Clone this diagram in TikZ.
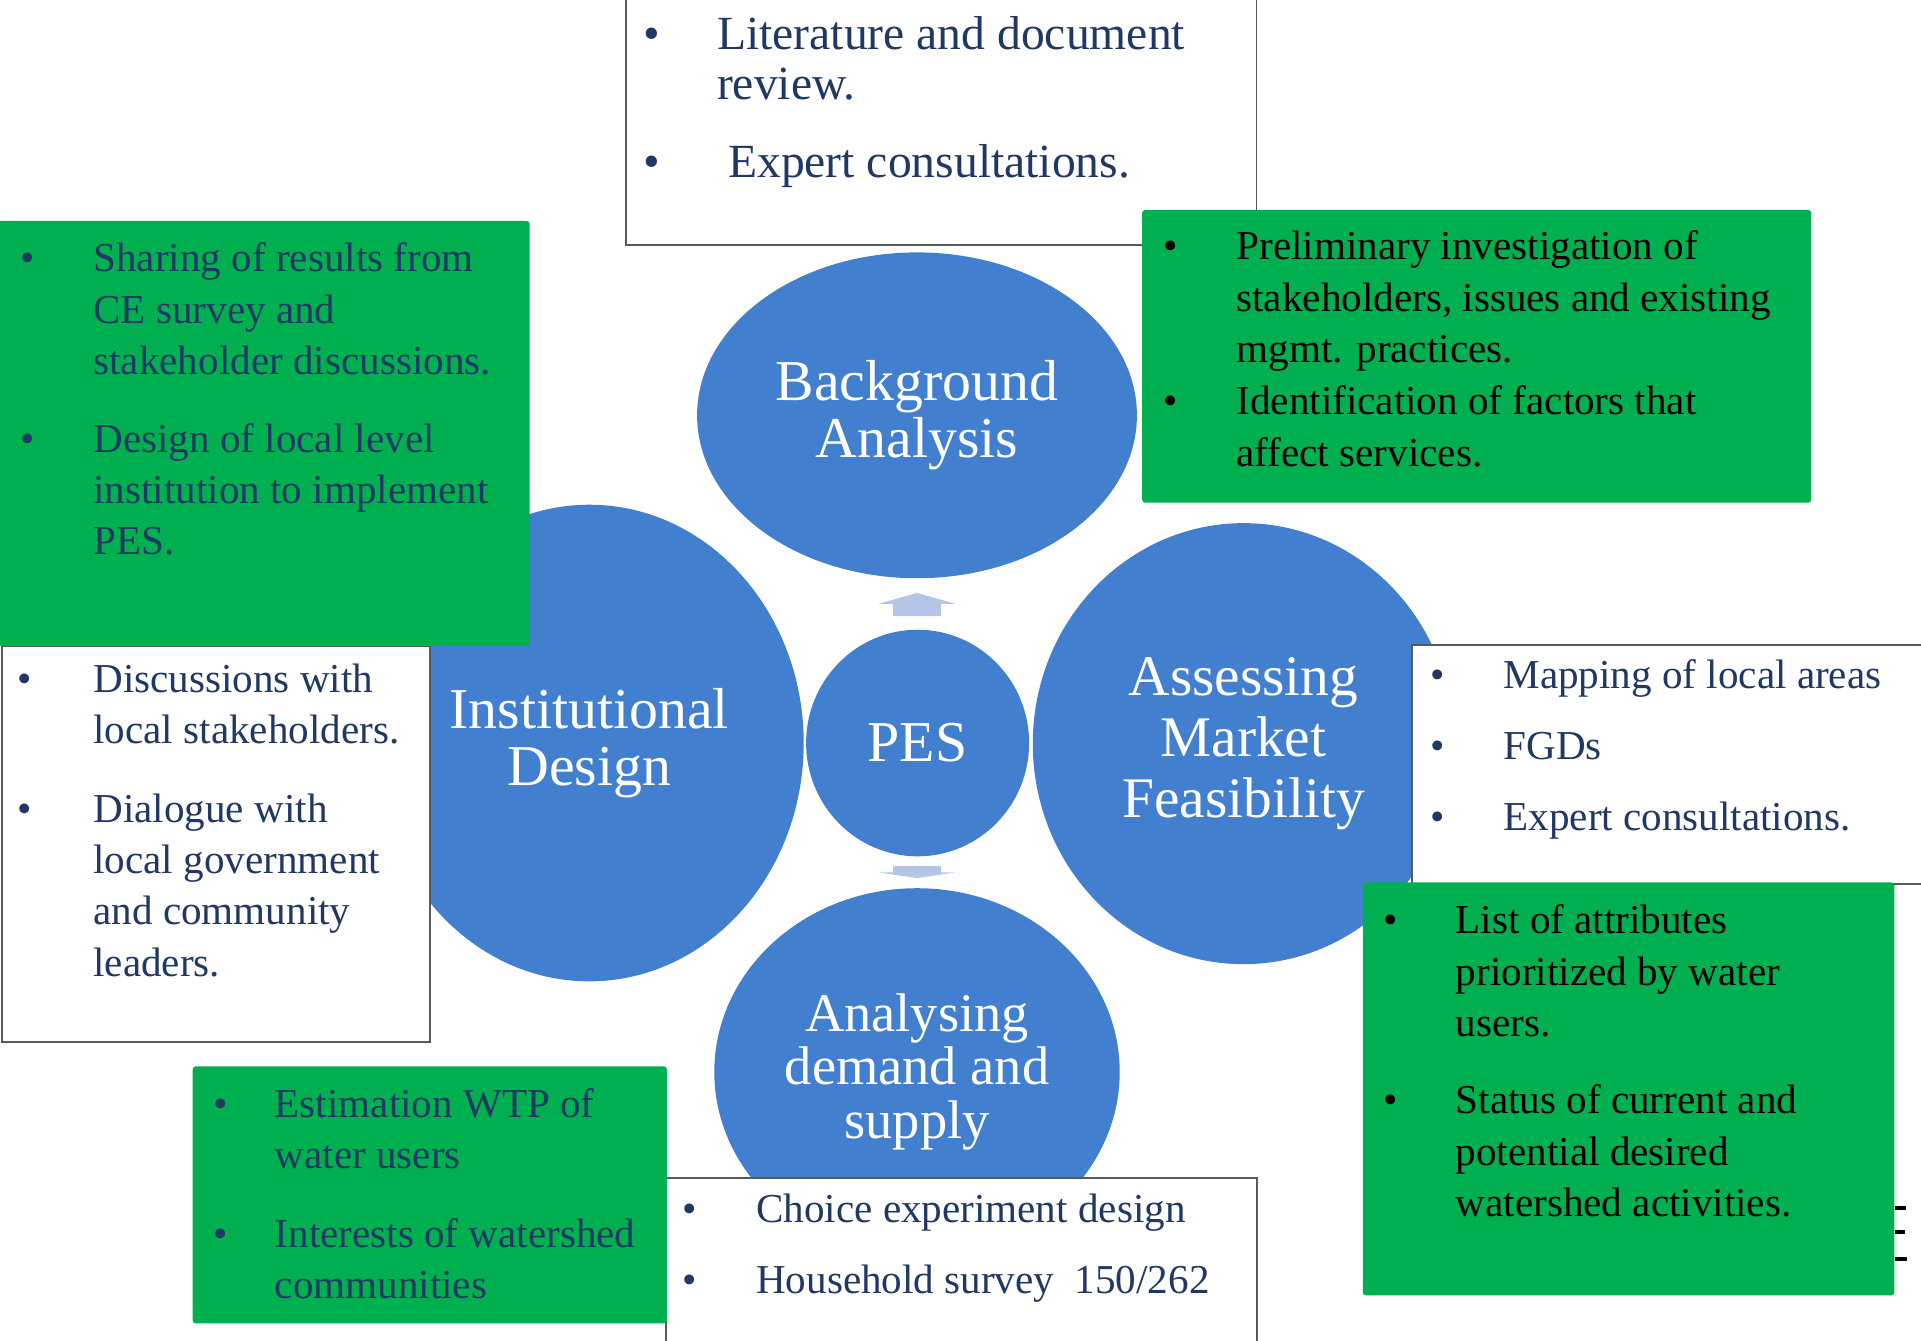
\documentclass[tikz,border=0pt]{standalone}
\usepackage{fontspec}
\setmainfont{Liberation Serif}
\usetikzlibrary{shapes.geometric}

\definecolor{blobblue}{RGB}{66,128,207}
\definecolor{boxgreen}{RGB}{0,176,80}
\definecolor{arrowblue}{RGB}{180,197,231}
\definecolor{navy}{RGB}{31,56,100}
\definecolor{framegray}{RGB}{89,89,89}

\newcommand{\bigtxt}{\fontsize{28.9}{28.8}\selectfont}
\newcommand{\smalltxt}{\fontsize{27.2}{26.6}\selectfont}
\newcommand{\bodytxt}{\fontsize{20.55}{25.7}\selectfont}
\newcommand{\toptxt}{\fontsize{23.8}{25.7}\selectfont}

\begin{document}
\begin{tikzpicture}[x=0.6125pt,y=-0.6125pt,
  blob/.style={ellipse, fill=blobblue, inner sep=0pt, text=white, align=center, font=\bigtxt},
  whitebox/.style={rectangle, draw=framegray, line width=0.9pt, fill=white, anchor=north west, inner sep=0pt},
  greenbox/.style={rectangle, fill=boxgreen, rounded corners=1.5pt, anchor=north west, inner sep=0pt},
  line/.style={inner sep=0pt, anchor=base west, font=\bodytxt},
  bul/.style={inner sep=0pt, anchor=base west, font=\bodytxt},
  topline/.style={inner sep=0pt, anchor=base west, font=\toptxt},
  tick/.style={line width=2pt, black}
]
\useasboundingbox (0,0) rectangle (1568,1094);

% the four stage ellipses and the hub
\node[blob, minimum width=219.9pt, minimum height=162.9pt] (bg) at (748.5,339) {Background\\Analysis};
\node[blob, minimum width=214.4pt, minimum height=238.3pt] (inst) at (481,606.5) {Institutional\\Design};
\node[blob, minimum width=111.5pt, minimum height=113.3pt] (pes) at (749,606.5) {PES};
\node[blob, minimum width=210.7pt, minimum height=220.5pt, font=\fontsize{28.7}{30.3}\selectfont] (amf) at (1015,607) {Assessing\\Market\\Feasibility};
\node[blob, minimum width=202.7pt, minimum height=183.75pt, font=\smalltxt] (ads) at (748.5,875) {Analysing\\demand and\\supply};

% block arrows around the hub
\fill[arrowblue] (729,503) -- (729,493) -- (716.7,493) -- (748.5,484) -- (780.3,493) -- (768,493) -- (768,503) -- cycle;
\fill[arrowblue] (729,707) -- (768,707) -- (768,712) -- (780.3,712) -- (748.5,716.7) -- (716.7,712) -- (729,712) -- cycle;

% methods boxes
\node[whitebox, minimum width=315.4pt, minimum height=124.95pt] (topbox) at (510,-5) {};
\node[whitebox, minimum width=213.8pt, minimum height=197.8pt] (lwhite) at (1,527) {};
\node[whitebox, minimum width=259.1pt, minimum height=119.4pt] (rwhite) at (1152,526) {};
\node[whitebox, minimum width=295.2pt, minimum height=85.75pt] (bwhite) at (543,961) {};

% outcome boxes
\node[greenbox, minimum width=334.4pt, minimum height=146.4pt] (trgreen) at (932,171) {};
\node[greenbox, minimum width=265.8pt, minimum height=212.5pt] (tlgreen) at (-2,180) {};
\node[greenbox, minimum width=265.8pt, minimum height=206.4pt] (brgreen) at (1112,720) {};
\node[greenbox, minimum width=237.0pt, minimum height=128.6pt] (blgreen) at (157,870) {};

% small marks at the edge of the lower right box
\draw[tick] (brgreen.north east |- 0,986) coordinate (m1) -- ++(9,0);
\draw[tick] (brgreen.north east |- 0,1006) coordinate (m2) -- ++(8,0);
\draw[tick] (brgreen.north east |- 0,1028) coordinate (m3) -- ++(10,0);

% top box text
\begin{scope}[every node/.append style={text=navy}]
\node[topline] (tb1) at (525,40.5) {\textbullet};
\node[topline] (tt1) at (585,40.5) {Literature and document};
\node[topline] (tt2) at (585,81.5) {review.};
\node[topline] (tb2) at (525,144.5) {\textbullet};
\node[topline] (tt3) at (594,144.5) {Expert consultations.};
\end{scope}

% upper right green box text
\begin{scope}[every node/.append style={text=black}]
\node[bul] (rb1) at (949,212) {\textbullet};
\node[line] (rt1) at (1009,212) {Preliminary investigation of};
\node[line] (rt2) at (1009,254) {stakeholders, issues and existing};
\node[line] (rt3) at (1009,296) {mgmt. practices.};
\node[bul] (rb2) at (949,338) {\textbullet};
\node[line] (rt4) at (1009,338) {Identification of factors that};
\node[line] (rt5) at (1009,381) {affect services.};
\end{scope}

% upper left green box text
\begin{scope}[every node/.append style={text=navy}]
\node[bul] (lb1) at (16,222) {\textbullet};
\node[line] (lt1) at (76,222) {Sharing of results from};
\node[line] (lt2) at (76,264) {CE survey and};
\node[line] (lt3) at (76,306) {stakeholder discussions.};
\node[bul] (lb2) at (16,369) {\textbullet};
\node[line] (lt4) at (76,369) {Design of local level};
\node[line] (lt5) at (76,411) {institution to implement};
\node[line] (lt6) at (76,453) {PES.};
\end{scope}

% left white box text
\begin{scope}[every node/.append style={text=navy}]
\node[bul] (wb1) at (14,565) {\textbullet};
\node[line] (wt1) at (76,565) {Discussions with};
\node[line] (wt2) at (76,607) {local stakeholders.};
\node[bul] (wb2) at (14,671) {\textbullet};
\node[line] (wt3) at (76,671) {Dialogue with};
\node[line] (wt4) at (76,713) {local government};
\node[line] (wt5) at (76,755) {and community};
\node[line] (wt6) at (76,797) {leaders.};
\end{scope}

% right white box text
\begin{scope}[every node/.append style={text=navy}]
\node[bul] (qb1) at (1167,562) {\textbullet};
\node[line] (qt1) at (1227,562) {Mapping of local areas};
\node[bul] (qb2) at (1167,620) {\textbullet};
\node[line] (qt2) at (1227,620) {FGDs};
\node[bul] (qb3) at (1167,678) {\textbullet};
\node[line] (qt3) at (1227,678) {Expert consultations.};
\end{scope}

% lower right green box text
\begin{scope}[every node/.append style={text=black}]
\node[bul] (gb1) at (1129,762) {\textbullet};
\node[line] (gt1) at (1188,762) {List of attributes};
\node[line] (gt2) at (1188,804) {prioritized by water};
\node[line] (gt3) at (1188,846) {users.};
\node[bul] (gb2) at (1129,909) {\textbullet};
\node[line] (gt4) at (1188,909) {Status of current and};
\node[line] (gt5) at (1188,951) {potential desired};
\node[line] (gt6) at (1188,993) {watershed activities.};
\end{scope}

% bottom white box text
\begin{scope}[every node/.append style={text=navy}]
\node[bul] (hb1) at (557,998) {\textbullet};
\node[line] (ht1) at (617,998) {Choice experiment design};
\node[bul] (hb2) at (557,1056) {\textbullet};
\node[line] (ht2) at (617,1056) {Household survey\ \ 150/262};
\end{scope}

% lower left green box text
\begin{scope}[every node/.append style={text=navy}]
\node[bul] (eb1) at (174,912) {\textbullet};
\node[line] (et1) at (224,912) {Estimation WTP of};
\node[line] (et2) at (224,954) {water users};
\node[bul] (eb2) at (174,1018) {\textbullet};
\node[line] (et3) at (224,1018) {Interests of watershed};
\node[line] (et4) at (224,1060) {communities};
\end{scope}
\end{tikzpicture}
\end{document}
